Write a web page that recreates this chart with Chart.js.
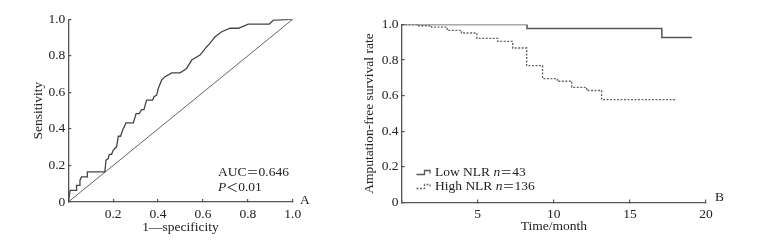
<!DOCTYPE html>
<html>
<head>
<meta charset="utf-8">
<script src="https://cdn.jsdelivr.net/npm/chart.js@4.4.0/dist/chart.umd.min.js"></script>
<style>
  body { margin: 0; background: #fff; }
  #wrap { position: relative; width: 766px; height: 240px; }
  .box { position: absolute; top: 0; height: 240px; }
</style>
</head>
<body>
<div id="wrap">
  <div class="box" style="left:0;width:320px"><canvas id="rocChart" width="320" height="240"></canvas></div>
  <div class="box" style="left:320px;width:446px"><canvas id="kmChart" width="446" height="240"></canvas></div>
</div>
<script>
// ROC curve (panel A)
const rocFpr = [0, 0.008, 0.037, 0.037, 0.052, 0.052, 0.059, 0.085, 0.085, 0.163, 0.168, 0.178, 0.183, 0.193, 0.2, 0.215, 0.223, 0.233, 0.242, 0.257, 0.29, 0.302, 0.316, 0.327, 0.337, 0.349, 0.376, 0.382, 0.394, 0.401, 0.416, 0.431, 0.461, 0.498, 0.527, 0.55, 0.587, 0.617, 0.631, 0.654, 0.684, 0.721, 0.758, 0.802, 0.896, 0.914, 1];
const rocTpr = [0, 0.064, 0.064, 0.091, 0.091, 0.119, 0.137, 0.137, 0.165, 0.165, 0.229, 0.238, 0.261, 0.261, 0.283, 0.302, 0.36, 0.36, 0.393, 0.433, 0.433, 0.484, 0.484, 0.506, 0.506, 0.558, 0.558, 0.576, 0.585, 0.622, 0.667, 0.686, 0.707, 0.707, 0.731, 0.777, 0.804, 0.85, 0.868, 0.905, 0.932, 0.951, 0.951, 0.974, 0.974, 0.996, 1];
const refLine = [0, 1];
const rocXTicks = [0, 0.2, 0.4, 0.6, 0.8, 1.0];
const rocYTicks = [0, 0.2, 0.4, 0.6, 0.8, 1.0];

// Kaplan-Meier curves (panel B)
const lowTime = [0, 8.24, 17.1, 19.07];
const lowSurv = [1.0, 0.978, 0.927, 0.927];
const highTime = [0, 1.03, 1.97, 2.99, 3.93, 4.95, 6.32, 7.3, 8.22, 9.26, 10.24, 11.18, 12.16, 13.14, 18.08];
const highSurv = [1.0, 0.993, 0.985, 0.967, 0.952, 0.922, 0.905, 0.868, 0.769, 0.696, 0.681, 0.647, 0.629, 0.578, 0.578];
const kmXTicks = [0, 5, 10, 15, 20];
const kmYTicks = [0, 0.2, 0.4, 0.6, 0.8, 1.0];

Chart.defaults.font.family = '"Liberation Serif", "Times New Roman", serif';
Chart.defaults.color = '#222';

const axisColor = '#555';
const fixedTicks = (arr) => (scale) => { scale.ticks = arr.map(v => ({ value: v })); };
const fmtY = (v) => v === 0 ? '0' : Number(v).toFixed(1);

function xy(xs, ys) {
    return xs.map((x, i) => ({ x: x, y: ys[i] }));
}

function axis(opts) {
    return Object.assign({
        type: 'linear',
        border: { display: true, color: axisColor, width: 1.3 },
        grid: { display: true, drawOnChartArea: false, tickLength: -3, color: axisColor, lineWidth: 1.2 },
    }, opts);
}

// text overlays drawn on the canvas
function textPlugin(id, drawFn) {
    return { id: id, afterDraw(chart) { const ctx = chart.ctx; ctx.save(); drawFn(ctx, chart); ctx.restore(); } };
}

function drawRich(ctx, parts, x, y) {
    let cx = x;
    parts.forEach(p => {
        ctx.font = (p.italic ? 'italic ' : '') + '13.5px "Liberation Serif", serif';
        if (p.cjk) ctx.font = '12px "Noto Sans CJK SC", sans-serif';
        ctx.fillText(p.t, cx, y);
        cx += ctx.measureText(p.t).width + (p.gap || 0);
    });
}

const rocCtx = document.getElementById('rocChart').getContext('2d');
const rocChart = new Chart(rocCtx, {
    type: 'line',
    data: {
        datasets: [{
            data: xy(rocFpr, rocTpr),
            borderColor: '#444',
            borderWidth: 1.3,
            pointRadius: 0,
            tension: 0,
        }, {
            data: xy(refLine, refLine),
            borderColor: '#555',
            borderWidth: 0.9,
            pointRadius: 0,
            tension: 0,
        }]
    },
    options: {
        responsive: false,
        animation: false,
        events: [],
        layout: { padding: { left: 0, top: 19.3, right: 27.3, bottom: 0 } },
        plugins: { legend: { display: false }, tooltip: { enabled: false } },
        scales: {
            x: axis({
                min: 0, max: 1,
                afterBuildTicks: fixedTicks(rocXTicks),
                afterFit: (s) => { s.height = 38; },
                ticks: { padding: 7, font: { size: 13.5 }, maxRotation: 0, callback: (v) => v === 0 ? '' : Number(v).toFixed(1) },
                title: { display: true, text: '1\u2014specificity', font: { size: 13.5 }, padding: { top: 0, bottom: 4.5 } }
            }),
            y: axis({
                min: 0, max: 1,
                afterBuildTicks: fixedTicks(rocYTicks),
                afterFit: (s) => { s.width = 68.3; },
                ticks: { padding: 6, font: { size: 13.5 }, callback: fmtY },
                title: { display: true, text: 'Sensitivity', font: { size: 13.5 }, padding: { top: 30, bottom: 0 } }
            })
        }
    },
    plugins: [textPlugin('rocText', (ctx) => {
        ctx.fillStyle = '#222';
        ctx.textBaseline = 'middle';
        drawRich(ctx, [{ t: 'AUC' }, { t: '\uFF1D', cjk: true }, { t: '0.646' }], 218, 172.5);
        drawRich(ctx, [{ t: 'P', italic: true }, { t: '\uFF1C', cjk: true }, { t: '0.01' }], 218, 187.5);
        drawRich(ctx, [{ t: 'A' }], 300, 200);
    })]
});

const kmCtx = document.getElementById('kmChart').getContext('2d');
const kmChart = new Chart(kmCtx, {
    type: 'line',
    data: {
        datasets: [{
            label: 'Low NLR',
            data: xy(lowTime, lowSurv),
            borderColor: '#555',
            borderWidth: 1.5,
            pointRadius: 0,
            stepped: 'before',
        }, {
            label: 'High NLR',
            data: xy(highTime, highSurv),
            borderColor: '#666',
            borderWidth: 1.4,
            borderDash: [2, 1.5],
            pointRadius: 0,
            stepped: 'before',
        }]
    },
    options: {
        responsive: false,
        animation: false,
        events: [],
        layout: { padding: { left: 0, top: 24.5, right: 60, bottom: 0 } },
        plugins: { legend: { display: false }, tooltip: { enabled: false } },
        scales: {
            x: axis({
                min: 0, max: 20,
                afterBuildTicks: fixedTicks(kmXTicks),
                afterFit: (s) => { s.height = 37.5; },
                ticks: { padding: 7, font: { size: 13.5 }, maxRotation: 0, callback: (v) => v === 0 ? '' : String(v) },
                title: { display: true, text: 'Time/month', font: { size: 13.5 }, padding: { top: 0, bottom: 5.5 } }
            }),
            y: axis({
                min: 0, max: 1,
                afterBuildTicks: fixedTicks(kmYTicks),
                afterFit: (s) => { s.width = 81.6; },
                ticks: { padding: 6, font: { size: 13.5 }, callback: fmtY },
                title: { display: true, text: 'Amputation-free survival rate', font: { size: 13.5 }, padding: { top: 41.5, bottom: 0 } }
            })
        }
    },
    plugins: [textPlugin('kmText', (ctx, chart) => {
        const sets = chart.data.datasets;
        const rows = [{ y: 172.5, n: '43' }, { y: 186.5, n: '136' }];
        rows.forEach((r, i) => {
            const ds = sets[i];
            // small step glyph like the reference legend
            ctx.strokeStyle = ds.borderColor;
            ctx.lineWidth = 1.3;
            ctx.setLineDash(ds.borderDash || []);
            ctx.beginPath();
            ctx.moveTo(96.5, r.y + 2);
            ctx.lineTo(104.5, r.y + 2);
            ctx.lineTo(104.5, r.y - 2);
            ctx.lineTo(110, r.y - 2);
            ctx.lineTo(110, r.y + 1);
            ctx.stroke();
            ctx.setLineDash([]);
            ctx.fillStyle = '#222';
            ctx.textBaseline = 'middle';
            drawRich(ctx, [{ t: ds.label + ' ', gap: 0 }, { t: 'n', italic: true }, { t: '\uFF1D', cjk: true }, { t: r.n }], 115, r.y);
        });
        ctx.fillStyle = '#222';
        ctx.textBaseline = 'middle';
        drawRich(ctx, [{ t: 'B' }], 395, 197.5);
    })]
});
</script>
</body>
</html>
